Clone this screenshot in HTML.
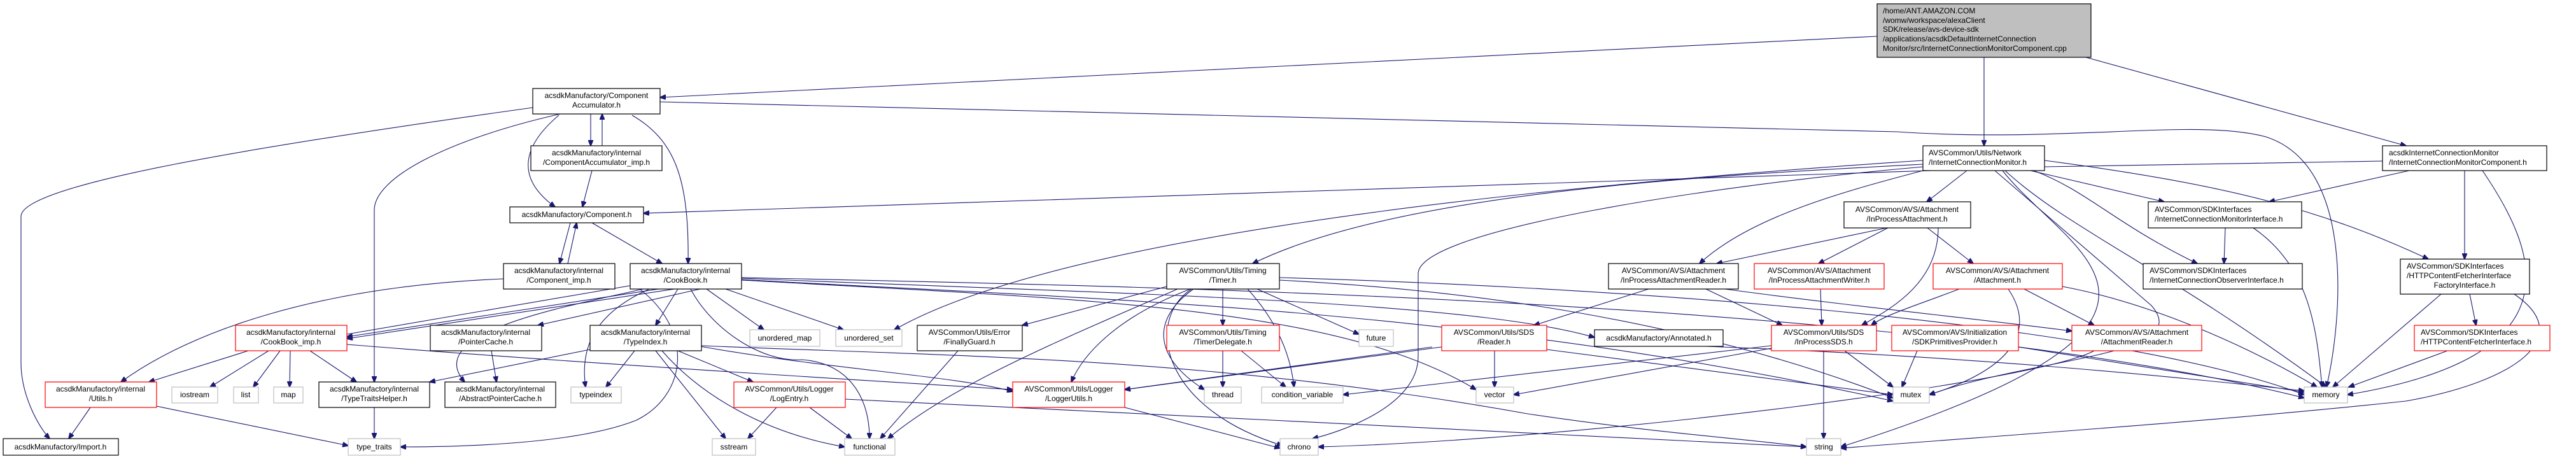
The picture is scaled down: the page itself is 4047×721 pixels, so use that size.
<!DOCTYPE html>
<html><head><meta charset="utf-8"><style>
html,body{margin:0;padding:0;background:#fff;}
svg{display:block;}
text{font-family:"Liberation Sans",Arial,sans-serif;font-size:12px;fill:#000;}
.e{fill:none;stroke:#191970;stroke-width:1.1;marker-end:url(#a);}
.n{fill:#fff;stroke:#000;stroke-width:1.2;}
.r{fill:#fff;stroke:#ff0000;stroke-width:1.2;}
.g{fill:#fff;stroke:#bfbfbf;stroke-width:1.2;}
</style></head><body>
<svg width="4047" height="721" viewBox="0 0 4047 721" xmlns="http://www.w3.org/2000/svg">
<defs><marker id="a" markerWidth="10" markerHeight="8" refX="9" refY="4" orient="auto" markerUnits="userSpaceOnUse"><path d="M0,0 L10,4 L0,8 z" fill="#191970" stroke="#191970"/></marker></defs>
<g>
<path class="e" d="M2949,57 L1037,153"/>
<path class="e" d="M3117,90 L3117,229"/>
<path class="e" d="M3277,90 L3780,229"/>
<path class="e" d="M837,169 C400,230 33,290 33,340 L33,570 C33,620 60,670 78,689"/>
<path class="e" d="M880,179 C700,220 588,280 588,330 L588,600"/>
<path class="e" d="M878,181 C820,230 810,280 872,325"/>
<path class="e" d="M928,179 L928,229"/>
<path class="e" d="M946,229 L946,179"/>
<path class="e" d="M993,181 C1060,220 1083,280 1081,414"/>
<path class="e" d="M1037,160 L2980,207 C3250,225 3450,185 3560,215 C3700,260 3680,500 3655,608"/>
<path class="e" d="M930,268 L915,325"/>
<path class="e" d="M896,350 L879,414"/>
<path class="e" d="M892,414 L906,350"/>
<path class="e" d="M930,350 L1040,414"/>
<path class="e" d="M791,438 C500,450 300,520 190,600"/>
<path class="e" d="M3743,253 L3212,262 L1011,335"/>
<path class="e" d="M3021,252 C2600,280 1700,350 1405,518"/>
<path class="e" d="M3021,258 C2700,275 2200,300 1968,414"/>
<path class="e" d="M3021,262 C2700,290 2228,360 2228,430 L2228,560 C2228,640 2100,680 2062,689"/>
<path class="e" d="M3021,268 C2900,300 2750,340 2670,414"/>
<path class="e" d="M3090,268 L3027,317"/>
<path class="e" d="M3212,252 C3500,290 3650,330 3815,407"/>
<path class="e" d="M3190,268 L3400,317"/>
<path class="e" d="M3195,268 C3280,300 3320,350 3452,414"/>
<path class="e" d="M3150,268 C3250,360 3400,420 3655,608"/>
<path class="e" d="M3134,268 L3380,480 C3450,560 3200,560 3031,620"/>
<path class="e" d="M3146,268 C3250,400 3530,500 2892,702"/>
<path class="e" d="M2966,358 L2857,414"/>
<path class="e" d="M2964,358 L2697,414"/>
<path class="e" d="M3045,358 C3045,450 2960,490 2925,511"/>
<path class="e" d="M3028,358 L3100,414"/>
<path class="e" d="M3078,454 C3010,480 2960,495 2940,511"/>
<path class="e" d="M3180,454 L3290,511"/>
<path class="e" d="M3155,454 C3200,520 3160,580 3031,620"/>
<path class="e" d="M3240,450 C3400,480 3560,560 3640,608"/>
<path class="e" d="M2590,454 L2410,511"/>
<path class="e" d="M2680,454 L2800,511"/>
<path class="e" d="M2710,454 C2900,480 3100,500 3255,520"/>
<path class="e" d="M2860,454 L2862,511"/>
<path class="e" d="M2783,543 L2110,620"/>
<path class="e" d="M2783,547 L2378,620"/>
<path class="e" d="M2898,551 L2974,608"/>
<path class="e" d="M2865,551 L2865,689"/>
<path class="e" d="M2348,551 L2348,608"/>
<path class="e" d="M2430,549 L2974,620"/>
<path class="e" d="M2265,545 L1767,612"/>
<path class="e" d="M2680,544 C3100,560 3400,590 3620,614"/>
<path class="e" d="M3171,545 L3620,616"/>
<path class="e" d="M3012,551 L2988,608"/>
<path class="e" d="M3290,551 C3200,600 2500,690 2071,702"/>
<path class="e" d="M3496,358 L3494,414"/>
<path class="e" d="M3540,358 C3630,420 3640,520 3648,608"/>
<path class="e" d="M3785,268 L3565,317"/>
<path class="e" d="M3872,268 L3872,407"/>
<path class="e" d="M3900,268 C3990,400 4050,560 3688,620"/>
<path class="e" d="M3835,462 L3665,608"/>
<path class="e" d="M3880,462 L3890,511"/>
<path class="e" d="M3950,462 C4050,530 3950,600 3780,630 C3500,660 3200,680 2892,704"/>
<path class="e" d="M3845,551 L3690,608"/>
<path class="e" d="M1833,450 L1606,511"/>
<path class="e" d="M1850,454 C1700,520 1500,600 1395,689"/>
<path class="e" d="M1870,454 C1750,500 1700,560 1683,600"/>
<path class="e" d="M1921,454 L1921,511"/>
<path class="e" d="M1875,454 C1810,500 1810,560 1892,612"/>
<path class="e" d="M1960,454 C2020,520 2030,580 2033,608"/>
<path class="e" d="M1975,454 L2135,525"/>
<path class="e" d="M1872,454 C1800,500 1820,640 2015,700"/>
<path class="e" d="M2010,440 C2200,450 2600,480 2974,625"/>
<path class="e" d="M2010,436 C2500,450 3300,500 3620,620"/>
<path class="e" d="M1921,551 L1921,608"/>
<path class="e" d="M1950,551 L2020,608"/>
<path class="e" d="M2250,545 L1767,612"/>
<path class="e" d="M1767,640 L2011,704"/>
<path class="e" d="M1165,434 L545,529"/>
<path class="e" d="M1165,438 L545,532"/>
<path class="e" d="M545,525 L1000,447"/>
<path class="e" d="M1100,454 L845,511"/>
<path class="e" d="M1010,454 C900,480 660,520 730,600"/>
<path class="e" d="M1020,454 C940,490 910,540 920,608"/>
<path class="e" d="M1065,454 L1030,511"/>
<path class="e" d="M1110,454 L1200,518"/>
<path class="e" d="M1140,454 L1325,518"/>
<path class="e" d="M1085,454 C1120,520 1200,570 1260,565 C1330,570 1366,620 1366,689"/>
<path class="e" d="M1165,437 C1700,460 2300,470 2505,530"/>
<path class="e" d="M1165,439 C1700,470 2300,480 2974,630"/>
<path class="e" d="M1165,440 C1700,470 2100,480 2319,612"/>
<path class="e" d="M1165,436 C1800,450 3000,470 3620,625"/>
<path class="e" d="M1005,454 C1090,520 1080,620 1000,660 C900,700 700,702 629,702"/>
<path class="e" d="M390,551 L234,600"/>
<path class="e" d="M422,551 L330,608"/>
<path class="e" d="M440,551 L398,608"/>
<path class="e" d="M456,551 L455,608"/>
<path class="e" d="M487,551 L560,600"/>
<path class="e" d="M545,541 C900,570 1400,600 1591,612"/>
<path class="e" d="M772,551 L780,600"/>
<path class="e" d="M927,549 L675,600"/>
<path class="e" d="M997,551 L952,608"/>
<path class="e" d="M1065,551 L1183,600"/>
<path class="e" d="M1100,544 C1300,580 1500,590 1591,615"/>
<path class="e" d="M1030,551 L1140,689"/>
<path class="e" d="M1040,551 C1100,620 1200,680 1327,702"/>
<path class="e" d="M1102,543 C1500,560 1900,560 2400,650 C2600,680 2750,690 2838,702"/>
<path class="e" d="M142,640 L108,689"/>
<path class="e" d="M246,638 L547,700"/>
<path class="e" d="M588,640 L588,689"/>
<path class="e" d="M1220,640 L1175,689"/>
<path class="e" d="M1272,640 L1338,689"/>
<path class="e" d="M1328,627 C1800,650 2400,680 2838,702"/>
<path class="e" d="M1505,551 L1383,689"/>
</g>
<g>
<rect x="2949" y="6" width="336" height="84" fill="#bfbfbf" stroke="#000" stroke-width="1.2"/>
<text x="2958" y="21">/home/ANT.AMAZON.COM</text>
<text x="2958" y="36">/womw/workspace/alexaClient</text>
<text x="2958" y="50">SDK/release/avs-device-sdk</text>
<text x="2958" y="65">/applications/acsdkDefaultInternetConnection</text>
<text x="2958" y="80">Monitor/src/InternetConnectionMonitorComponent.cpp</text>

<rect class="n" x="837" y="139" width="200" height="40"/><text x="937" y="154" text-anchor="middle">acsdkManufactory/Component</text><text x="937" y="169" text-anchor="middle">Accumulator.h</text>
<rect class="n" x="834" y="229" width="206" height="39"/><text x="937" y="244" text-anchor="middle">acsdkManufactory/internal</text><text x="937" y="259" text-anchor="middle">/ComponentAccumulator_imp.h</text>
<rect class="n" x="801" y="325" width="210" height="25"/><text x="906" y="341" text-anchor="middle">acsdkManufactory/Component.h</text>
<rect class="n" x="791" y="414" width="175" height="40"/><text x="878" y="429" text-anchor="middle">acsdkManufactory/internal</text><text x="878" y="444" text-anchor="middle">/Component_imp.h</text>
<rect class="n" x="990" y="414" width="175" height="40"/><text x="1077" y="429" text-anchor="middle">acsdkManufactory/internal</text><text x="1077" y="444" text-anchor="middle">/CookBook.h</text>
<rect class="r" x="370" y="511" width="175" height="40"/><text x="457" y="526" text-anchor="middle">acsdkManufactory/internal</text><text x="457" y="541" text-anchor="middle">/CookBook_imp.h</text>
<rect class="n" x="676" y="511" width="175" height="40"/><text x="763" y="526" text-anchor="middle">acsdkManufactory/internal</text><text x="763" y="541" text-anchor="middle">/PointerCache.h</text>
<rect class="n" x="927" y="511" width="175" height="40"/><text x="1014" y="526" text-anchor="middle">acsdkManufactory/internal</text><text x="1014" y="541" text-anchor="middle">/TypeIndex.h</text>
<rect class="r" x="71" y="600" width="175" height="40"/><text x="158" y="615" text-anchor="middle">acsdkManufactory/internal</text><text x="158" y="630" text-anchor="middle">/Utils.h</text>
<rect class="g" x="270" y="608" width="72" height="25"/><text x="306" y="624" text-anchor="middle">iostream</text>
<rect class="g" x="367" y="608" width="39" height="25"/><text x="386" y="624" text-anchor="middle">list</text>
<rect class="g" x="430" y="608" width="46" height="25"/><text x="453" y="624" text-anchor="middle">map</text>
<rect class="n" x="501" y="600" width="174" height="40"/><text x="588" y="615" text-anchor="middle">acsdkManufactory/internal</text><text x="588" y="630" text-anchor="middle">/TypeTraitsHelper.h</text>
<rect class="n" x="699" y="600" width="174" height="40"/><text x="786" y="615" text-anchor="middle">acsdkManufactory/internal</text><text x="786" y="630" text-anchor="middle">/AbstractPointerCache.h</text>
<rect class="g" x="897" y="608" width="79" height="25"/><text x="936" y="624" text-anchor="middle">typeindex</text>
<rect class="n" x="5" y="689" width="181" height="26"/><text x="95" y="706" text-anchor="middle">acsdkManufactory/Import.h</text>
<rect class="g" x="547" y="689" width="82" height="26"/><text x="588" y="706" text-anchor="middle">type_traits</text>
<rect class="g" x="1178" y="518" width="110" height="26"/><text x="1233" y="535" text-anchor="middle">unordered_map</text>
<rect class="g" x="1313" y="518" width="104" height="26"/><text x="1365" y="535" text-anchor="middle">unordered_set</text>
<rect class="n" x="1441" y="511" width="165" height="40"/><text x="1523" y="526" text-anchor="middle">AVSCommon/Utils/Error</text><text x="1523" y="541" text-anchor="middle">/FinallyGuard.h</text>
<rect class="n" x="1833" y="414" width="177" height="40"/><text x="1921" y="429" text-anchor="middle">AVSCommon/Utils/Timing</text><text x="1921" y="444" text-anchor="middle">/Timer.h</text>
<rect class="r" x="1833" y="511" width="177" height="40"/><text x="1921" y="526" text-anchor="middle">AVSCommon/Utils/Timing</text><text x="1921" y="541" text-anchor="middle">/TimerDelegate.h</text>
<rect class="r" x="1153" y="600" width="175" height="40"/><text x="1240" y="615" text-anchor="middle">AVSCommon/Utils/Logger</text><text x="1240" y="630" text-anchor="middle">/LogEntry.h</text>
<rect class="r" x="1591" y="600" width="176" height="40"/><text x="1679" y="615" text-anchor="middle">AVSCommon/Utils/Logger</text><text x="1679" y="630" text-anchor="middle">/LoggerUtils.h</text>
<rect class="g" x="1892" y="608" width="58" height="25"/><text x="1921" y="624" text-anchor="middle">thread</text>
<rect class="g" x="1982" y="608" width="128" height="25"/><text x="2046" y="624" text-anchor="middle">condition_variable</text>
<rect class="g" x="1119" y="689" width="68" height="26"/><text x="1153" y="706" text-anchor="middle">sstream</text>
<rect class="g" x="1327" y="689" width="79" height="26"/><text x="1366" y="706" text-anchor="middle">functional</text>
<rect class="g" x="2135" y="518" width="54" height="26"/><text x="2162" y="535" text-anchor="middle">future</text>
<rect class="r" x="2265" y="511" width="165" height="40"/><text x="2347" y="526" text-anchor="middle">AVSCommon/Utils/SDS</text><text x="2347" y="541" text-anchor="middle">/Reader.h</text>
<rect class="n" x="2505" y="518" width="202" height="26"/><text x="2606" y="535" text-anchor="middle">acsdkManufactory/Annotated.h</text>
<rect class="n" x="2527" y="414" width="204" height="40"/><text x="2629" y="429" text-anchor="middle">AVSCommon/AVS/Attachment</text><text x="2629" y="444" text-anchor="middle">/InProcessAttachmentReader.h</text>
<rect class="r" x="2756" y="414" width="204" height="40"/><text x="2858" y="429" text-anchor="middle">AVSCommon/AVS/Attachment</text><text x="2858" y="444" text-anchor="middle">/InProcessAttachmentWriter.h</text>
<rect class="n" x="2897" y="317" width="199" height="41"/><text x="2996" y="333" text-anchor="middle">AVSCommon/AVS/Attachment</text><text x="2996" y="348" text-anchor="middle">/InProcessAttachment.h</text>
<rect class="r" x="2783" y="511" width="165" height="40"/><text x="2865" y="526" text-anchor="middle">AVSCommon/Utils/SDS</text><text x="2865" y="541" text-anchor="middle">/InProcessSDS.h</text>
<rect class="r" x="2972" y="511" width="199" height="40"/><text x="3071" y="526" text-anchor="middle">AVSCommon/AVS/Initialization</text><text x="3071" y="541" text-anchor="middle">/SDKPrimitivesProvider.h</text>
<rect class="g" x="2319" y="608" width="59" height="25"/><text x="2348" y="624" text-anchor="middle">vector</text>
<rect class="g" x="2974" y="608" width="57" height="25"/><text x="3002" y="624" text-anchor="middle">mutex</text>
<rect class="g" x="2011" y="689" width="60" height="26"/><text x="2041" y="706" text-anchor="middle">chrono</text>
<rect class="g" x="2838" y="689" width="54" height="26"/><text x="2865" y="706" text-anchor="middle">string</text>
<rect class="n" x="3021" y="229" width="191" height="39"/><text x="3030" y="244">AVSCommon/Utils/Network</text><text x="3030" y="259">/InternetConnectionMonitor.h</text>
<rect class="r" x="3037" y="414" width="203" height="40"/><text x="3138" y="429" text-anchor="middle">AVSCommon/AVS/Attachment</text><text x="3138" y="444" text-anchor="middle">/Attachment.h</text>
<rect class="n" x="3375" y="317" width="241" height="41"/><text x="3385" y="333">AVSCommon/SDKInterfaces</text><text x="3385" y="348">/InternetConnectionMonitorInterface.h</text>
<rect class="n" x="3367" y="414" width="250" height="40"/><text x="3377" y="429">AVSCommon/SDKInterfaces</text><text x="3377" y="444">/InternetConnectionObserverInterface.h</text>
<rect class="n" x="3743" y="229" width="258" height="39"/><text x="3753" y="244">acsdkInternetConnectionMonitor</text><text x="3753" y="259">/InternetConnectionMonitorComponent.h</text>
<rect class="n" x="3771" y="407" width="203" height="55"/><text x="3781" y="422">AVSCommon/SDKInterfaces</text><text x="3781" y="437">/HTTPContentFetcherInterface</text><text x="3872" y="452" text-anchor="middle">FactoryInterface.h</text>
<rect class="r" x="3793" y="511" width="213" height="40"/><text x="3803" y="526">AVSCommon/SDKInterfaces</text><text x="3803" y="541">/HTTPContentFetcherInterface.h</text>
<rect class="r" x="3255" y="511" width="204" height="40"/><text x="3357" y="526" text-anchor="middle">AVSCommon/AVS/Attachment</text><text x="3357" y="541" text-anchor="middle">/AttachmentReader.h</text>
<rect class="g" x="3620" y="608" width="68" height="25"/><text x="3654" y="624" text-anchor="middle">memory</text>
</g>
</svg>
</body></html>
